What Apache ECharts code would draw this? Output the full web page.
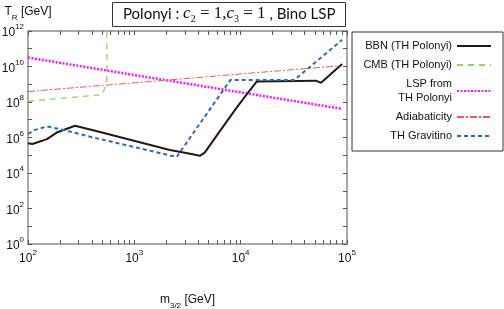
<!DOCTYPE html>
<html>
<head>
<meta charset="utf-8">
<script src="https://cdn.jsdelivr.net/npm/echarts@6/dist/echarts.min.js"></script>
<style>html,body{margin:0;padding:0;background:#fff}#c{width:504px;height:309px}</style>
</head>
<body>
<div id="c"></div>
<script>
// ---- data ----
var seriesNames = ['BBN (TH Polonyi)', 'CMB (TH Polonyi)', 'LSP from\nTH Polonyi', 'Adiabaticity', 'TH Gravitino'];

var bbnX = [100, 110, 151, 186, 277, 428, 2160, 3550, 4120, 4590, 6350, 9100, 11300, 14200, 51000, 57000, 90000];
var bbnY = [4.8e5, 4.3e5, 8.1e5, 1.9e6, 4.6e6, 2.4e6, 2.0e5, 1.15e5, 9.3e4, 1.4e5, 2.2e6, 4.5e7, 2.5e8, 1.45e9, 1.6e9, 1.2e9, 1.4e10];

var cmbX = [100, 500, 550, 551];
var cmbY = [1.1e8, 2.6e8, 1.2e9, 1e12];

var lspX = [100, 1000, 10000, 90000];
var lspY = [3.2e10, 3.3e9, 3.5e8, 4.1e7];

var adiX = [100, 1000, 10000, 90000];
var adiY = [3.9e8, 1.2e9, 3.8e9, 1.12e10];

var gravX = [100, 117, 151, 194, 428, 2500, 8000, 32000, 90000];
var gravY = [1.6e6, 2.7e6, 4.2e6, 3.1e6, 9.5e5, 8.0e4, 1.75e9, 1.75e9, 3.2e11];

var xLabelValues = [100, 1000, 10000, 100000];
var xLabelExps = ['2', '3', '4', '5'];
var yLabelValues = [1, 100, 1e4, 1e6, 1e8, 1e10, 1e12];
var yLabelExps = ['0', '2', '4', '6', '8', '10', '12'];

// ---- helpers ----
function zip(xs, ys) { return xs.map(function (x, i) { return [x, ys[i]]; }); }
var xTicks = [];
for (var d = 100; d < 100000; d *= 10) { for (var k = 1; k < 10; k++) xTicks.push(d * k); }
xTicks.push(100000);
var yTicks = [];
for (var e = 1; e <= 1e12; e *= 10) yTicks.push(e);

function expLabel(values, exps) {
  return function (v) {
    var best = 0, bd = 1e9;
    for (var i = 0; i < values.length; i++) {
      var dd = Math.abs(Math.log10(values[i]) - Math.log10(v));
      if (dd < bd) { bd = dd; best = i; }
    }
    return '{b|10}{e|' + exps[best] + '}';
  };
}
var labelRich = {
  b: { fontFamily: 'Liberation Sans', fontSize: 12, color: '#111', lineHeight: 16, verticalAlign: 'bottom' },
  e: { fontFamily: 'Liberation Sans', fontSize: 8, color: '#111', lineHeight: 16, verticalAlign: 'top' }
};
var axisLineStyle = { color: '#a8a8a8', width: 2 };
var tickStyle = { color: '#555', width: 1 };
var legendText = { fontFamily: 'Liberation Sans', fontSize: 11, color: '#111', width: 91, align: 'right', lineHeight: 14 };

var chart = echarts.init(document.getElementById('c'), null, { renderer: 'canvas' });
chart.setOption({
  animation: false,
  backgroundColor: '#fff',
  title: {
    left: 112, top: 1,
    borderWidth: 1, borderColor: '#333',
    padding: [3, 10, 3, 11],
    text: '{s|Polonyi : }{i|c}{sub|2}{m| = 1,}{i|c}{sub|3}{m| = 1}{s| , Bino LSP}',
    textStyle: {
      fontWeight: 'normal',
      rich: {
        s: { fontFamily: 'Lato', fontSize: 15, fontWeight: 'normal', color: '#111', lineHeight: 20 },
        i: { fontFamily: 'Liberation Serif', fontStyle: 'italic', fontWeight: 'normal', fontSize: 17, color: '#111', lineHeight: 20 },
        sub: { fontFamily: 'Liberation Serif', fontSize: 10, fontWeight: 'normal', color: '#111', lineHeight: 13, verticalAlign: 'bottom' },
        m: { fontFamily: 'Liberation Serif', fontSize: 17, fontWeight: 'normal', color: '#111', lineHeight: 20 }
      }
    }
  },
  legend: {
    orient: 'vertical',
    left: 352, top: 32,
    padding: [7, 11, 8, 9],
    borderWidth: 1, borderColor: '#333',
    backgroundColor: '#fff',
    itemWidth: 34, itemHeight: 12, itemGap: 5,
    align: 'right',
    itemStyle: { opacity: 0 },
    data: [
      { name: seriesNames[0] },
      { name: seriesNames[1] },
      { name: seriesNames[2], textStyle: { fontFamily: 'Liberation Sans', fontSize: 11, color: '#111', width: 68, align: 'left', lineHeight: 14, padding: [0, 0, 0, 23] } },
      { name: seriesNames[3] },
      { name: seriesNames[4] }
    ],
    textStyle: legendText
  },
  grid: { left: 28, right: 157, top: 31, bottom: 65, containLabel: false, outerBoundsMode: 'none' },
  xAxis: [
    {
      type: 'log', logBase: 10, min: 100, max: 100000, position: 'bottom',
      name: '{b|m}{s|3/2}{b| [GeV]}', nameLocation: 'middle', nameGap: 50,
      nameTextStyle: {
        rich: {
          b: { fontFamily: 'Liberation Sans', fontSize: 12, color: '#111', lineHeight: 16, verticalAlign: 'top' },
          s: { fontFamily: 'Liberation Sans', fontSize: 8, color: '#111', lineHeight: 16, verticalAlign: 'bottom' }
        }
      },
      axisLine: { show: true, onZero: false, lineStyle: axisLineStyle },
      axisTick: { show: true, inside: true, length: 4, customValues: xTicks, lineStyle: tickStyle },
      axisLabel: { show: true, margin: 5, customValues: xLabelValues, formatter: expLabel(xLabelValues, xLabelExps), rich: labelRich },
      splitLine: { show: false }, minorTick: { show: false }
    },
    {
      type: 'log', logBase: 10, min: 100, max: 100000, position: 'top',
      axisLine: { show: true, onZero: false, lineStyle: axisLineStyle },
      axisTick: { show: true, inside: true, length: 4, customValues: xTicks, lineStyle: tickStyle },
      axisLabel: { show: false },
      splitLine: { show: false }
    }
  ],
  yAxis: [
    {
      type: 'log', logBase: 10, min: 1, max: 1e12, position: 'left',
      name: '{b|T}{s|R}{b| [GeV]}', nameLocation: 'end', nameGap: 9,
      nameTextStyle: {
        align: 'center',
        rich: {
          b: { fontFamily: 'Liberation Sans', fontSize: 12, color: '#111', lineHeight: 16, verticalAlign: 'top' },
          s: { fontFamily: 'Liberation Sans', fontSize: 8, color: '#111', lineHeight: 16, verticalAlign: 'bottom' }
        }
      },
      axisLine: { show: true, onZero: false, lineStyle: axisLineStyle },
      axisTick: { show: true, inside: true, length: 4, customValues: yTicks, lineStyle: tickStyle },
      axisLabel: { show: true, margin: 4, customValues: yLabelValues, formatter: expLabel(yLabelValues, yLabelExps), rich: labelRich },
      splitLine: { show: false }
    },
    {
      type: 'log', logBase: 10, min: 1, max: 1e12, position: 'right',
      axisLine: { show: true, onZero: false, lineStyle: axisLineStyle },
      axisTick: { show: true, inside: true, length: 4, customValues: yTicks, lineStyle: tickStyle },
      axisLabel: { show: false },
      splitLine: { show: false }
    }
  ],
  series: [
    { name: seriesNames[0], type: 'line', data: zip(bbnX, bbnY), symbol: 'none', showSymbol: false, z: 3,
      itemStyle: { color: '#231815' }, lineStyle: { color: '#231815', width: 2 } },
    { name: seriesNames[1], type: 'line', data: zip(cmbX, cmbY), symbol: 'none', showSymbol: false, z: 2,
      itemStyle: { color: '#9ccf6a' }, lineStyle: { color: '#9ccf6a', width: 1.3, type: [6, 5] } },
    { name: seriesNames[2], type: 'line', data: zip(lspX, lspY), symbol: 'none', showSymbol: false, z: 2,
      itemStyle: { color: '#ff14ff' }, lineStyle: { color: '#ff14ff', width: 2.5, type: [2, 1.5] } },
    { name: seriesNames[3], type: 'line', data: zip(adiX, adiY), symbol: 'none', showSymbol: false, z: 2,
      itemStyle: { color: '#ea5a62' }, lineStyle: { color: '#ea5a62', width: 1, type: [7, 2, 2, 2] } },
    { name: seriesNames[4], type: 'line', data: zip(gravX, gravY), symbol: 'none', showSymbol: false, z: 4,
      itemStyle: { color: '#2e69b8' }, lineStyle: { color: '#2e69b8', width: 2, type: [4, 3] } }
  ]
});
</script>
</body>
</html>
